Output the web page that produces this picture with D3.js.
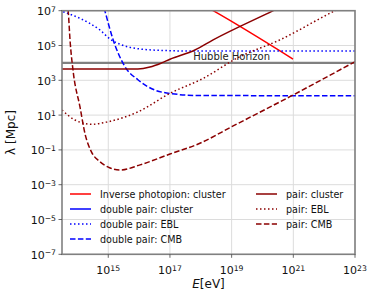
<!DOCTYPE html>
<html>
<head>
<meta charset="utf-8">
<script src="https://cdn.jsdelivr.net/npm/d3@7"></script>
<style>
  body { margin: 0; background: #fff; }
  text { font-family: "DejaVu Sans", sans-serif; }
</style>
</head>
<body>
<div id="vis"></div>
<script>
// values, as [log10 E/eV, log10 lambda/Mpc]
var photopionCluster = [[18.3, 7.1], [18.4, 7.0], [20.99, 4.22]];
var pairCluster = [[13.5, 3.65], [15.96, 3.65], [16.35, 3.76], [16.73, 4.0], [17.0, 4.21],
  [17.81, 4.74], [18.4, 5.32], [20.35, 7.0], [20.5, 7.13]];
var doublePairEBL = [[13.54, 6.94], [14.08, 6.56], [14.73, 5.89], [15.06, 5.37], [15.44, 5.03],
  [16.08, 4.79], [16.84, 4.71], [17.81, 4.68], [23, 4.68]];
var doublePairCMB = [[14.8, 7.6], [14.89, 7.0], [15.16, 5.32], [15.54, 3.79], [15.97, 3.02],
  [16.51, 2.44], [17.16, 2.21], [17.81, 2.13], [23, 2.11]];
var pairEBL = [[13.5, 1.29], [13.92, 0.72], [14.46, 0.47], [15.0, 0.62], [15.97, 1.19],
  [17.0, 2.25], [18.08, 3.11], [19.16, 4.26], [20.56, 5.32], [22.35, 7.0], [22.5, 7.13]];
var pairCMB = [[13.66, 7.5], [13.70, 7.0], [13.76, 5.32], [13.87, 3.4], [14.08, 1.5], [14.25, -0.1],
  [14.45, -1.1], [14.73, -1.68], [15.06, -2.04], [15.38, -2.16], [16.03, -1.86], [17.0, -1.24],
  [17.97, -0.62], [19.0, 0.33], [20.89, 2.06], [23, 4.07]];
var hubbleHorizon = 1e4;

var xTicks = [15, 17, 19, 21, 23];
var yTicks = [-7, -5, -3, -1, 1, 3, 5, 7];

var series = [
  {name: "Inverse photopion: cluster", data: photopionCluster, color: "#ff0000", dash: null},
  {name: "double pair: cluster", data: [], color: "#0000ff", dash: null},
  {name: "double pair: EBL", data: doublePairEBL, color: "#0000ff", dash: "1.5,2.5"},
  {name: "double pair: CMB", data: doublePairCMB, color: "#0000ff", dash: "5.5,2.4"},
  {name: "pair: cluster", data: pairCluster, color: "#8b0000", dash: null},
  {name: "pair: EBL", data: pairEBL, color: "#8b0000", dash: "1.5,2.5"},
  {name: "pair: CMB", data: pairCMB, color: "#8b0000", dash: "5.5,2.4"}
];

var W = 374, H = 299;
var margin = {top: 10.7, right: 19, bottom: 44.7, left: 62};

var svg = d3.select("#vis").append("svg")
  .attr("width", W)
  .attr("height", H);

var x = d3.scaleLog().domain([Math.pow(10, 13.5), 1e23]).range([margin.left, W - margin.right]);
var y = d3.scaleLog().domain([1e-7, 1e7]).range([H - margin.bottom, margin.top]);

svg.append("defs").append("clipPath").attr("id", "clip")
  .append("rect")
  .attr("x", margin.left).attr("y", margin.top)
  .attr("width", W - margin.left - margin.right)
  .attr("height", H - margin.top - margin.bottom);

// grid
var grid = svg.append("g");
grid.selectAll(".gx").data(xTicks).enter().append("line")
  .attr("x1", d => x(Math.pow(10, d))).attr("x2", d => x(Math.pow(10, d)))
  .attr("y1", margin.top).attr("y2", H - margin.bottom)
  .attr("stroke", "#dcdcdc").attr("stroke-width", 1);
grid.selectAll(".gy").data(yTicks).enter().append("line")
  .attr("y1", d => y(Math.pow(10, d))).attr("y2", d => y(Math.pow(10, d)))
  .attr("x1", margin.left).attr("x2", W - margin.right)
  .attr("stroke", "#dcdcdc").attr("stroke-width", 1);

var plot = svg.append("g").attr("clip-path", "url(#clip)");

// hubble horizon
plot.append("line")
  .attr("x1", margin.left).attr("x2", W - margin.right)
  .attr("y1", y(hubbleHorizon)).attr("y2", y(hubbleHorizon))
  .attr("stroke", "#808080").attr("stroke-width", 2.2);

var line = d3.line()
  .x(d => x(Math.pow(10, d[0])))
  .y(d => y(Math.pow(10, d[1])))
  .curve(d3.curveMonotoneX);

series.forEach(function(s) {
  if (!s.data.length) return;
  plot.append("path")
    .attr("d", line(s.data))
    .attr("fill", "none")
    .attr("stroke", s.color)
    .attr("stroke-width", 1.5)
    .attr("stroke-dasharray", s.dash);
});

svg.append("text")
  .attr("x", x(1e19)).attr("y", y(hubbleHorizon) - 2.5)
  .attr("text-anchor", "middle")
  .attr("font-size", "10px")
  .attr("fill", "#222")
  .text("Hubble Horizon");

// spines
svg.append("rect")
  .attr("x", margin.left).attr("y", margin.top)
  .attr("width", W - margin.left - margin.right)
  .attr("height", H - margin.top - margin.bottom)
  .attr("fill", "none").attr("stroke", "#808080").attr("stroke-width", 1.6);

// ticks + labels
function powLabel(sel, e) {
  sel.append("tspan").text("10");
  sel.append("tspan").attr("dy", "-0.45em").attr("font-size", "7.7px").text(e < 0 ? "\u2212" + (-e) : e);
}

xTicks.forEach(function(e) {
  var px = x(Math.pow(10, e));
  svg.append("line")
    .attr("x1", px).attr("x2", px)
    .attr("y1", H - margin.bottom).attr("y2", H - margin.bottom + 3.5)
    .attr("stroke", "#444").attr("stroke-width", 0.8);
  var t = svg.append("text")
    .attr("x", px).attr("y", 274)
    .attr("text-anchor", "middle")
    .attr("font-size", "11px").attr("fill", "#111");
  powLabel(t, e);
});

yTicks.forEach(function(e) {
  var py = y(Math.pow(10, e));
  svg.append("line")
    .attr("x1", margin.left - 3.5).attr("x2", margin.left)
    .attr("y1", py).attr("y2", py)
    .attr("stroke", "#444").attr("stroke-width", 0.8);
  var t = svg.append("text")
    .attr("x", margin.left - 6).attr("y", py + 4.5)
    .attr("text-anchor", "end")
    .attr("font-size", "11px").attr("fill", "#111");
  powLabel(t, e);
});

// axis labels
var xl = svg.append("text")
  .attr("x", (margin.left + W - margin.right) / 2).attr("y", 288)
  .attr("text-anchor", "middle")
  .attr("font-size", "12px").attr("fill", "#111");
xl.append("tspan").attr("font-style", "italic").text("E");
xl.append("tspan").text("[eV]");

svg.append("text")
  .attr("transform", "translate(15," + ((margin.top + H - margin.bottom) / 2) + ") rotate(-90)")
  .attr("text-anchor", "middle")
  .attr("font-size", "12px").attr("fill", "#111")
  .text("\u03bb [Mpc]");

// legend, two columns
var legPos = [
  [70, 194], [70, 209], [70, 224], [70, 239],
  [256, 194], [256, 209], [256, 224]
];
series.forEach(function(s, i) {
  var p = legPos[i];
  svg.append("line")
    .attr("x1", p[0]).attr("x2", p[0] + 21)
    .attr("y1", p[1]).attr("y2", p[1])
    .attr("stroke", s.color).attr("stroke-width", 1.5)
    .attr("stroke-dasharray", s.dash);
  svg.append("text")
    .attr("x", p[0] + 30).attr("y", p[1] + 3.5)
    .attr("font-size", "9.6px").attr("fill", "#111")
    .text(s.name);
});
</script>
</body>
</html>
